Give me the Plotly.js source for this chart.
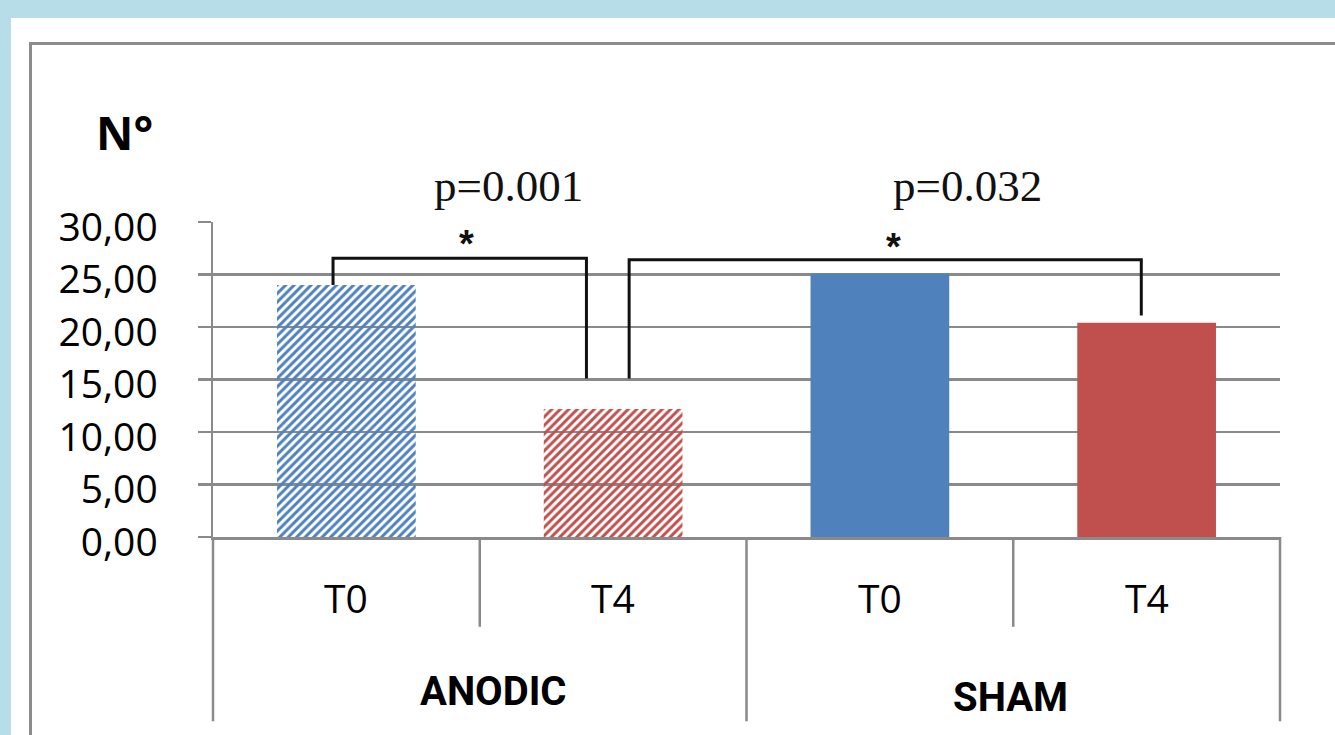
<!DOCTYPE html>
<html>
<head>
<meta charset="utf-8">
<script src="https://cdn.plot.ly/plotly-3.0.1.min.js"></script>
<style>
  html, body { margin:0; padding:0; width:1335px; height:735px; overflow:hidden; background:#b7dde8; }
  #panel { position:absolute; left:11px; top:18px; width:1324px; height:717px; background:#ffffff; }
  #frame { position:absolute; left:29px; top:42px; width:1400px; height:800px; border-left:3px solid #8c8c8c; border-top:3px solid #8c8c8c; }
  #chart { position:absolute; left:0; top:0; width:1335px; height:735px; }
</style>
</head>
<body>
<div id="panel"></div>
<div id="frame"></div>
<div id="chart"></div>
<script>
// ---- data ----
const groups = ['ANODIC', 'ANODIC', 'SHAM', 'SHAM'];
const times = ['T0', 'T4', 'T0', 'T4'];
const values = [24.0, 12.2, 25.1, 20.4];
const barColors = ['#4f81bd', '#c0504d', '#4f81bd', '#c0504d'];
const hatches = ['/', '/', '', ''];
const groupNames = ['ANODIC', 'SHAM'];
const yTicks = [0, 5, 10, 15, 20, 25, 30];
const pLabels = ['p=0.001', 'p=0.032'];
// brackets: [x left, x right], feet heights, top height
const bracketX = [[-0.05, 0.9], [1.06, 2.98]];
const bracketFeet = [[24.0, 15.1], [15.1, 21.1]];
const bracketTop = [26.55, 26.4];

const cats = times.map((t, i) => groups[i] + ' ' + t);
const n = cats.length;

const trace = {
  type: 'bar',
  x: cats,
  y: values,
  marker: {
    color: barColors,
    line: { width: 0 },
    pattern: {
      shape: hatches,
      fgcolor: barColors,
      bgcolor: hatches.map((h, i) => h ? '#ffffff' : barColors[i]),
      size: 6,
      solidity: 0.5
    }
  },
  hoverinfo: 'skip'
};

const gridColor = '#8a8a8a';
const shapes = [];
const annotations = [];

// category dividers below the axis
for (let i = 0; i <= n; i++) {
  const isGroupEdge = (i === 0 || i === n || groups[i] !== groups[i - 1]);
  shapes.push({
    type: 'line', xref: 'x domain', yref: 'paper',
    x0: i / n, x1: i / n, y0: 0, y1: isGroupEdge ? -0.585 : -0.285,
    line: { color: gridColor, width: 2.5 }
  });
}

// significance brackets
bracketX.forEach((bx, k) => {
  const pts = [[bx[0], bracketFeet[k][0]], [bx[0], bracketTop[k]], [bx[1], bracketTop[k]], [bx[1], bracketFeet[k][1]]];
  shapes.push({
    type: 'path', xref: 'x', yref: 'y',
    path: 'M ' + pts.map(q => q[0] + ',' + q[1]).join(' L '),
    line: { color: '#111111', width: 3 }
  });
});

// category labels
times.forEach((t, i) => {
  annotations.push({
    x: i, y: 0, xref: 'x', yref: 'paper',
    text: t, showarrow: false, yanchor: 'middle', yshift: -60,
    font: { family: 'Open Sans, sans-serif', size: 39, color: '#000000' }
  });
});
// group labels
const gShift = [14, -3];
const gY = [-154, -160];
groupNames.forEach((g, k) => {
  const idx = groups.map((gg, i) => gg === g ? i : -1).filter(i => i >= 0);
  const center = (idx[0] + idx[idx.length - 1]) / 2;
  annotations.push({
    x: center, y: 0, xref: 'x', yref: 'paper',
    text: '<b>' + g + '</b>', showarrow: false, yanchor: 'middle',
    xshift: gShift[k], yshift: gY[k],
    font: { family: 'Roboto, Liberation Sans, sans-serif', size: 40, color: '#000000' }
  });
});

// p values and asterisks
const pX = [0.606, 2.33];
const starX = [0.452, 2.05];
const starY = [27.9, 27.6];
pLabels.forEach((p, k) => {
  annotations.push({
    x: pX[k], y: 1, xref: 'x', yref: 'paper', text: p, showarrow: false,
    yanchor: 'middle', yshift: 36,
    font: { family: 'Liberation Serif, Times New Roman, serif', size: 45, color: '#111111' }
  });
  annotations.push({
    x: starX[k], y: starY[k], xref: 'x', yref: 'y', text: '<b>*</b>', showarrow: false,
    yanchor: 'middle',
    font: { family: 'Liberation Sans, Arial, sans-serif', size: 38, color: '#111111' }
  });
});

// y title
annotations.push({
  x: 0, y: 1, xref: 'paper', yref: 'paper', text: '<b>N°</b>', showarrow: false,
  xanchor: 'center', yanchor: 'middle', xshift: -89, yshift: 90,
  font: { family: 'Open Sans, sans-serif', size: 46, color: '#000000' }
});

const layout = {
  width: 1335, height: 735,
  margin: { l: 213, r: 55, t: 222, b: 198 },
  paper_bgcolor: 'rgba(0,0,0,0)',
  plot_bgcolor: 'rgba(0,0,0,0)',
  separators: ',.',
  showlegend: false,
  bargap: 0.48,
  xaxis: {
    type: 'category', range: [-0.5, n - 0.5], showticklabels: false,
    showgrid: false, zeroline: false, showline: true, linecolor: gridColor, linewidth: 2.5,
    ticks: '', fixedrange: true
  },
  yaxis: {
    range: [0, 30], tickvals: yTicks, tickformat: '.2f',
    showgrid: true, gridcolor: gridColor, gridwidth: 2.5,
    zeroline: false, showline: true, linecolor: gridColor, linewidth: 2.5,
    ticks: 'outside', ticklen: 13, tickwidth: 2.5, tickcolor: gridColor,
    ticklabelstandoff: 32, ticklabelshift: 5,
    tickfont: { family: 'Open Sans, sans-serif', size: 39, color: '#000000' },
    fixedrange: true
  },
  shapes: shapes,
  annotations: annotations
};

Plotly.newPlot('chart', [trace], layout, { staticPlot: true, displayModeBar: false });
</script>
</body>
</html>
